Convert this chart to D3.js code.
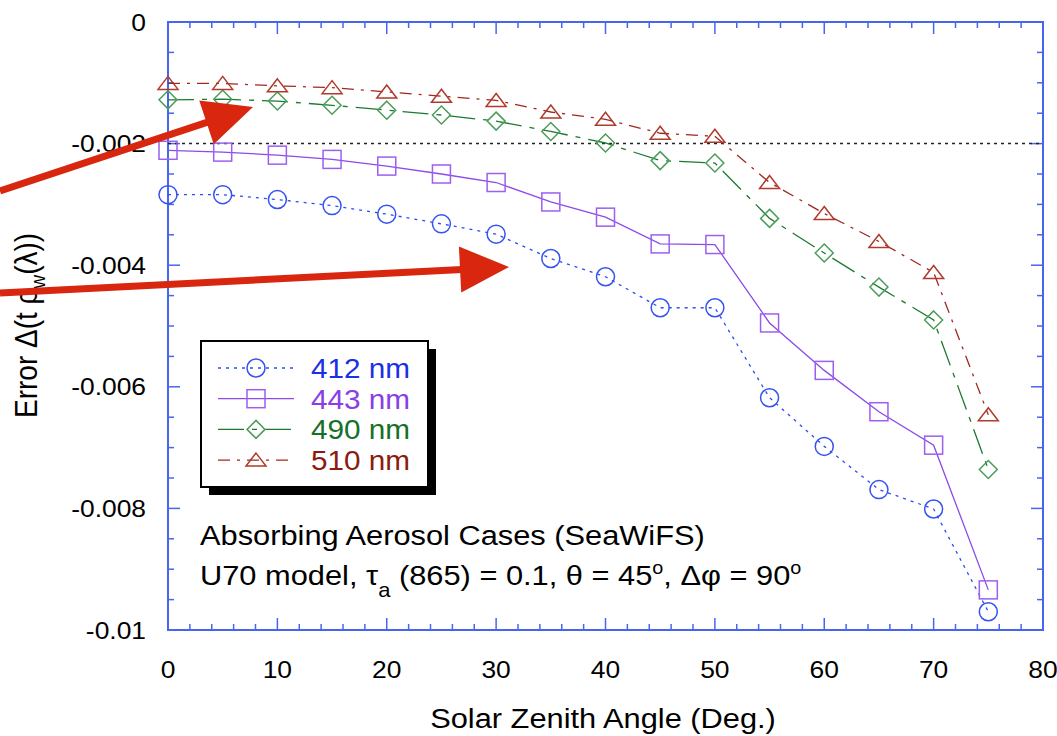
<!DOCTYPE html>
<html>
<head>
<meta charset="utf-8">
<script src="https://cdn.jsdelivr.net/npm/d3@7"></script>
<style>
  body { margin: 0; background: #fff; }
  svg text { font-family: "Liberation Sans", Arial, sans-serif; }
</style>
</head>
<body>
<div id="chart"></div>
<script>
// Data
const angles = [0, 5, 10, 15, 20, 25, 30, 35, 40, 45, 50, 55, 60, 65, 70, 75];
const err412 = [-0.00284, -0.00284, -0.00292, -0.00302, -0.00316, -0.00332, -0.00349, -0.00389,
    -0.00419, -0.00470, -0.00470, -0.00618, -0.00698, -0.00769, -0.00801, -0.00970];
const err443 = [-0.00211, -0.00214, -0.00219, -0.00226, -0.00237, -0.00250, -0.00264, -0.00296,
    -0.00321, -0.00365, -0.00366, -0.00495, -0.00573, -0.00641, -0.00696, -0.00934];
const err490 = [-0.00128, -0.00127, -0.00130, -0.00137, -0.00145, -0.00153, -0.00163, -0.00180,
    -0.00199, -0.00228, -0.00232, -0.00323, -0.00380, -0.00436, -0.00490, -0.00736];
const err510 = [-0.00101, -0.00101, -0.00105, -0.00108, -0.00115, -0.00122, -0.00129, -0.00148,
    -0.00160, -0.00183, -0.00188, -0.00264, -0.00315, -0.00361, -0.00412, -0.00646];
const seriesNames = ["412 nm", "443 nm", "490 nm", "510 nm"];
const xTicks = [0, 10, 20, 30, 40, 50, 60, 70, 80];
const yTicks = [0, -0.002, -0.004, -0.006, -0.008, -0.01];
const refLevel = -0.002;

const width = 1057;
const height = 736;
const plot = { left: 168, right: 1043, top: 22, bottom: 630 };
const axisColor = "#4766f0";
const stretch = 1.1; // the original lettering is a bit wider than Liberation Sans

const series = [
    { name: seriesNames[0], values: err412, line: "#2b4cf0", mark: "#3552f2", text: "#1a30e6", dash: "3,5", shape: "circle" },
    { name: seriesNames[1], values: err443, line: "#8c4ae8", mark: "#9d5ff0", text: "#8a3ee6", dash: null, shape: "square" },
    { name: seriesNames[2], values: err490, line: "#1c7a30", mark: "#4c9c5c", text: "#167028", dash: "26,8,5,8", shape: "diamond" },
    { name: seriesNames[3], values: err510, line: "#a0281e", mark: "#b03a2c", text: "#8c1a10", dash: "12,7,3,7", shape: "triangle" }
];

const svg = d3.select("#chart").append("svg")
    .attr("width", width)
    .attr("height", height);

// widened text placed at (tx, ty)
function wideText(parent, tx, ty, size) {
    return parent.append("text")
        .attr("transform", `translate(${tx},${ty}) scale(${stretch},1)`)
        .attr("font-size", size);
}

// Scales
const x = d3.scaleLinear().domain([0, 80]).range([plot.left, plot.right]);
const y = d3.scaleLinear().domain([-0.01, 0]).range([plot.bottom, plot.top]);

// Frame + ticks (inward on all four sides)
const frame = svg.append("g");
frame.append("rect")
    .attr("x", plot.left).attr("y", plot.top)
    .attr("width", plot.right - plot.left).attr("height", plot.bottom - plot.top)
    .attr("fill", "none").attr("stroke", axisColor).attr("stroke-width", 2);

const xMinor = d3.range(0, 81, 2);
const yMinor = d3.range(0, 21).map(i => -i * 0.0005);

xMinor.forEach(v => {
    const len = v % 10 === 0 ? 12 : 6;
    frame.append("line").attr("x1", x(v)).attr("x2", x(v))
        .attr("y1", plot.bottom).attr("y2", plot.bottom - len);
    frame.append("line").attr("x1", x(v)).attr("x2", x(v))
        .attr("y1", plot.top).attr("y2", plot.top + len);
});
yMinor.forEach((v, i) => {
    const len = i % 4 === 0 ? 12 : 6;
    frame.append("line").attr("y1", y(v)).attr("y2", y(v))
        .attr("x1", plot.left).attr("x2", plot.left + len);
    frame.append("line").attr("y1", y(v)).attr("y2", y(v))
        .attr("x1", plot.right).attr("x2", plot.right - len);
});
frame.selectAll("line").attr("stroke", axisColor).attr("stroke-width", 1.5);

// Tick labels
const tickG = svg.append("g");
xTicks.forEach(d => {
    wideText(tickG, x(d), 678, 24)
        .attr("text-anchor", "middle")
        .text(d);
});
yTicks.forEach(d => {
    wideText(tickG, 146, y(d) + 8.5, 24)
        .attr("text-anchor", "end")
        .text(d === 0 ? "0" : d3.format("")(d).replace("\u2212", "-"));
});

// Axis titles
wideText(svg, 603, 728, 28)
    .attr("text-anchor", "middle")
    .text("Solar Zenith Angle (Deg.)");

const yTitle = svg.append("text")
    .attr("transform", `translate(37,418) rotate(-90) scale(1,${stretch})`)
    .attr("font-size", 28);
yTitle.append("tspan").text("Error \u0394(t \u03C1");
yTitle.append("tspan").attr("dy", 7).attr("font-size", 19).text("w");
yTitle.append("tspan").attr("dy", -7).text("(\u03BB))");

// Reference line at -0.002
svg.append("line")
    .attr("x1", x(0)).attr("x2", x(80))
    .attr("y1", y(refLevel)).attr("y2", y(refLevel))
    .attr("stroke", "#222").attr("stroke-width", 1.5)
    .attr("stroke-dasharray", "3,4");

// Marker drawing
function drawMarker(g, shape, cx, cy, color) {
    if (shape === "circle") {
        g.append("circle").attr("cx", cx).attr("cy", cy).attr("r", 9);
    } else if (shape === "square") {
        g.append("rect").attr("x", cx - 9).attr("y", cy - 9).attr("width", 18).attr("height", 18);
    } else if (shape === "diamond") {
        g.append("path").attr("d", `M${cx},${cy - 9}L${cx + 9},${cy}L${cx},${cy + 9}L${cx - 9},${cy}Z`);
    } else {
        g.append("path").attr("d", `M${cx},${cy - 7}L${cx + 10},${cy + 6}L${cx - 10},${cy + 6}Z`);
    }
    g.selectAll("*").attr("fill", "none").attr("stroke", color).attr("stroke-width", 1.5);
}

const line = d3.line()
    .x((d, i) => x(angles[i]))
    .y(d => y(d));

// Series lines and markers
series.forEach(s => {
    svg.append("path")
        .datum(s.values)
        .attr("d", line)
        .attr("fill", "none")
        .attr("stroke", s.line)
        .attr("stroke-width", 1.3)
        .attr("stroke-dasharray", s.dash);
    s.values.forEach((v, i) => {
        drawMarker(svg.append("g"), s.shape, x(angles[i]), y(v), s.mark);
    });
});

// Legend
const legend = svg.append("g").attr("transform", "translate(201,341)");
legend.append("rect")
    .attr("x", 8).attr("y", 8).attr("width", 227).attr("height", 146)
    .attr("fill", "#000");
legend.append("rect")
    .attr("width", 227).attr("height", 146)
    .attr("fill", "#fff").attr("stroke", "#000").attr("stroke-width", 2);

series.forEach((s, i) => {
    const ry = 27 + i * 30.7;
    legend.append("line")
        .attr("x1", 17).attr("x2", 93).attr("y1", ry).attr("y2", ry)
        .attr("stroke", s.line).attr("stroke-width", 1.3)
        .attr("stroke-dasharray", s.dash);
    drawMarker(legend.append("g"), s.shape, 55, ry, s.mark);
    wideText(legend, 110, ry + 10, 27)
        .attr("fill", s.text)
        .text(s.name);
});

// Annotation text
wideText(svg, 200, 545, 28)
    .text("Absorbing Aerosol Cases (SeaWiFS)");

const note = wideText(svg, 200, 585, 28);
note.append("tspan").text("U70 model, \u03C4");
note.append("tspan").attr("dy", 12).attr("font-size", 20).text("a");
note.append("tspan").attr("dy", -12).text(" (865) = 0.1, \u03B8 = 45");
note.append("tspan").attr("dy", -11).attr("font-size", 18).text("o");
note.append("tspan").attr("dy", 11).text(", \u0394\u03C6 = 90");
note.append("tspan").attr("dy", -11).attr("font-size", 18).text("o");

// Red arrows drawn over the chart
const arrows = [
    { from: [0, 191], tip: [253, 107] },
    { from: [0, 293], tip: [509, 267] }
];
arrows.forEach(a => {
    const dx = a.tip[0] - a.from[0], dy = a.tip[1] - a.from[1];
    const len = Math.hypot(dx, dy);
    const ux = dx / len, uy = dy / len;
    const head = 49, half = 23;
    const bx = a.tip[0] - ux * head, by = a.tip[1] - uy * head;
    svg.append("line")
        .attr("x1", a.from[0]).attr("y1", a.from[1])
        .attr("x2", bx + ux * 2).attr("y2", by + uy * 2)
        .attr("stroke", "#d8270e").attr("stroke-width", 7);
    svg.append("path")
        .attr("d", `M${a.tip[0]},${a.tip[1]}L${bx - uy * half},${by + ux * half}L${bx + uy * half},${by - ux * half}Z`)
        .attr("fill", "#d8270e");
});
</script>
</body>
</html>
